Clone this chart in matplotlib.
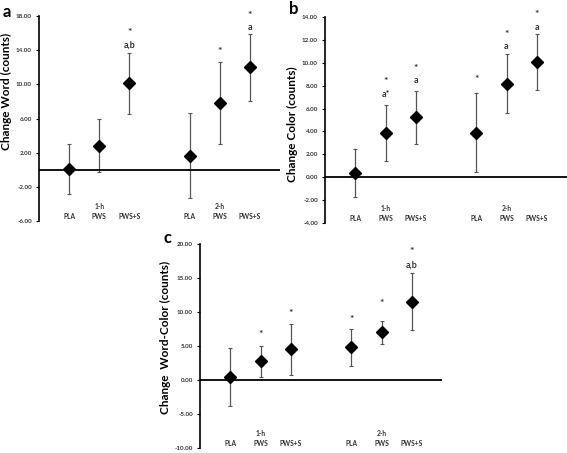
import matplotlib
matplotlib.use("Agg")
import matplotlib.pyplot as plt
import matplotlib.transforms as mtransforms

plt.rcParams["font.family"] = ["Lato", "DejaVu Sans"]

groups = ["PLA", "PWS", "PWS+S", "PLA", "PWS", "PWS+S"]
times = ["", "1-h", "", "", "2-h", ""]
xpos = [1, 2, 3, 5, 6, 7]

# panel a: Change Word
word_mean = [0.1, 2.8, 10.1, 1.65, 7.85, 12.0]
word_err = [2.9, 3.1, 3.6, 5.0, 4.8, 3.9]
word_star = ["", "", "*", "", "*", "*"]
word_star_y = [0, 0, 16.1, 0, 13.8, 18.1]
word_let = ["", "", "a,b", "", "", "a"]
word_let_y = [0, 0, 14.6, 0, 0, 16.6]

# panel b: Change Color
color_mean = [0.35, 3.87, 5.24, 3.87, 8.18, 10.04]
color_err = [2.1, 2.43, 2.33, 3.45, 2.6, 2.45]
color_star = ["", "*", "*", "*", "*", "*"]
color_star_y = [0, 8.37, 9.53, 8.52, 12.5, 14.2]
color_let = ["", "a*", "a", "", "a", "a"]
color_let_y = [0, 7.2, 8.43, 0, 11.4, 13.1]

# panel c: Change Word-Color
wc_mean = [0.4, 2.73, 4.54, 4.83, 7.04, 11.54]
wc_err = [4.28, 2.33, 3.75, 2.7, 1.7, 4.2]
wc_star = ["", "*", "*", "*", "*", "*"]
wc_star_y = [0, 6.76, 9.8, 8.94, 11.2, 18.9]
wc_let = ["", "", "", "", "", "a,b"]
wc_let_y = [0, 0, 0, 0, 0, 16.9]

W, H = 567, 453
fig = plt.figure(figsize=(W / 100, H / 100), dpi=100)


def make_axes(left, top, right, bottom):
    return fig.add_axes([left / W, 1 - bottom / H, (right - left) / W, (bottom - top) / H])


def panel(ax, mean, err, stars, star_y, lets, let_y, ylim, yticks, ylabel, label_y,
          letter, lx, ly):
    ax.errorbar(xpos, mean, yerr=err, fmt="none", ecolor="#555555", elinewidth=0.9,
                capsize=1.2, capthick=0.8)
    ax.plot(xpos, mean, "D", color="black", ms=6.5, zorder=3)
    ax.axhline(0, color="black", lw=1.3, zorder=2)
    ax.set_xlim(0, 8)
    ax.set_ylim(*ylim)
    ax.set_yticks(yticks)
    ax.set_yticklabels([f"{t:.2f}" for t in yticks], fontsize=4.5, fontweight="bold",
                       color="#333333")
    ax.tick_params(axis="y", length=2, width=0.8, pad=3)
    ax.set_xticks([])
    for s in ["top", "right", "bottom"]:
        ax.spines[s].set_visible(False)
    ax.spines["left"].set_linewidth(1.2)
    ax.set_ylabel(ylabel, fontsize=8.5, fontweight="bold", labelpad=3)
    ax.yaxis.label.set_y(label_y)
    trans = mtransforms.blended_transform_factory(ax.transData, ax.transAxes)
    for x, g, t in zip(xpos, groups, times):
        ax.text(x, 0.022, g, transform=trans, ha="center", va="center", fontsize=4.8,
                fontweight="bold", color="#333333")
        if t:
            ax.text(x, 0.07, t, transform=trans, ha="center", va="center", fontsize=4.8,
                    fontweight="bold", color="#333333")
    for x, s, sy, l, lyv in zip(xpos, stars, star_y, lets, let_y):
        if s:
            ax.text(x, sy, s, ha="center", va="center", fontsize=7.5, fontweight="bold",
                    color="#333333")
        if l:
            ax.text(x, lyv, l, ha="center", va="center", fontsize=6.5, fontweight="bold",
                    color="#333333")
    fig.text(lx / W, 1 - ly / H, letter, fontsize=12, fontweight="bold", ha="left", va="center")


ax_a = make_axes(39, 16, 280, 221)
panel(ax_a, word_mean, word_err, word_star, word_star_y, word_let, word_let_y,
      (-6, 18), [-6, -2, 2, 6, 10, 14, 18], "Change Word (counts)", 0.63, "a", 3, 12)

ax_b = make_axes(325, 17, 567, 223)
panel(ax_b, color_mean, color_err, color_star, color_star_y, color_let, color_let_y,
      (-4, 14), [-4, -2, 0, 2, 4, 6, 8, 10, 12, 14], "Change Color (counts)", 0.48,
      "b", 289, 9)

ax_c = make_axes(200, 244, 442, 448)
panel(ax_c, wc_mean, wc_err, wc_star, wc_star_y, wc_let, wc_let_y,
      (-10, 20), [-10, -5, 0, 5, 10, 15, 20], "Change  Word-Color (counts)", 0.54,
      "c", 163, 238)

fig.savefig("out.png", dpi=100)
